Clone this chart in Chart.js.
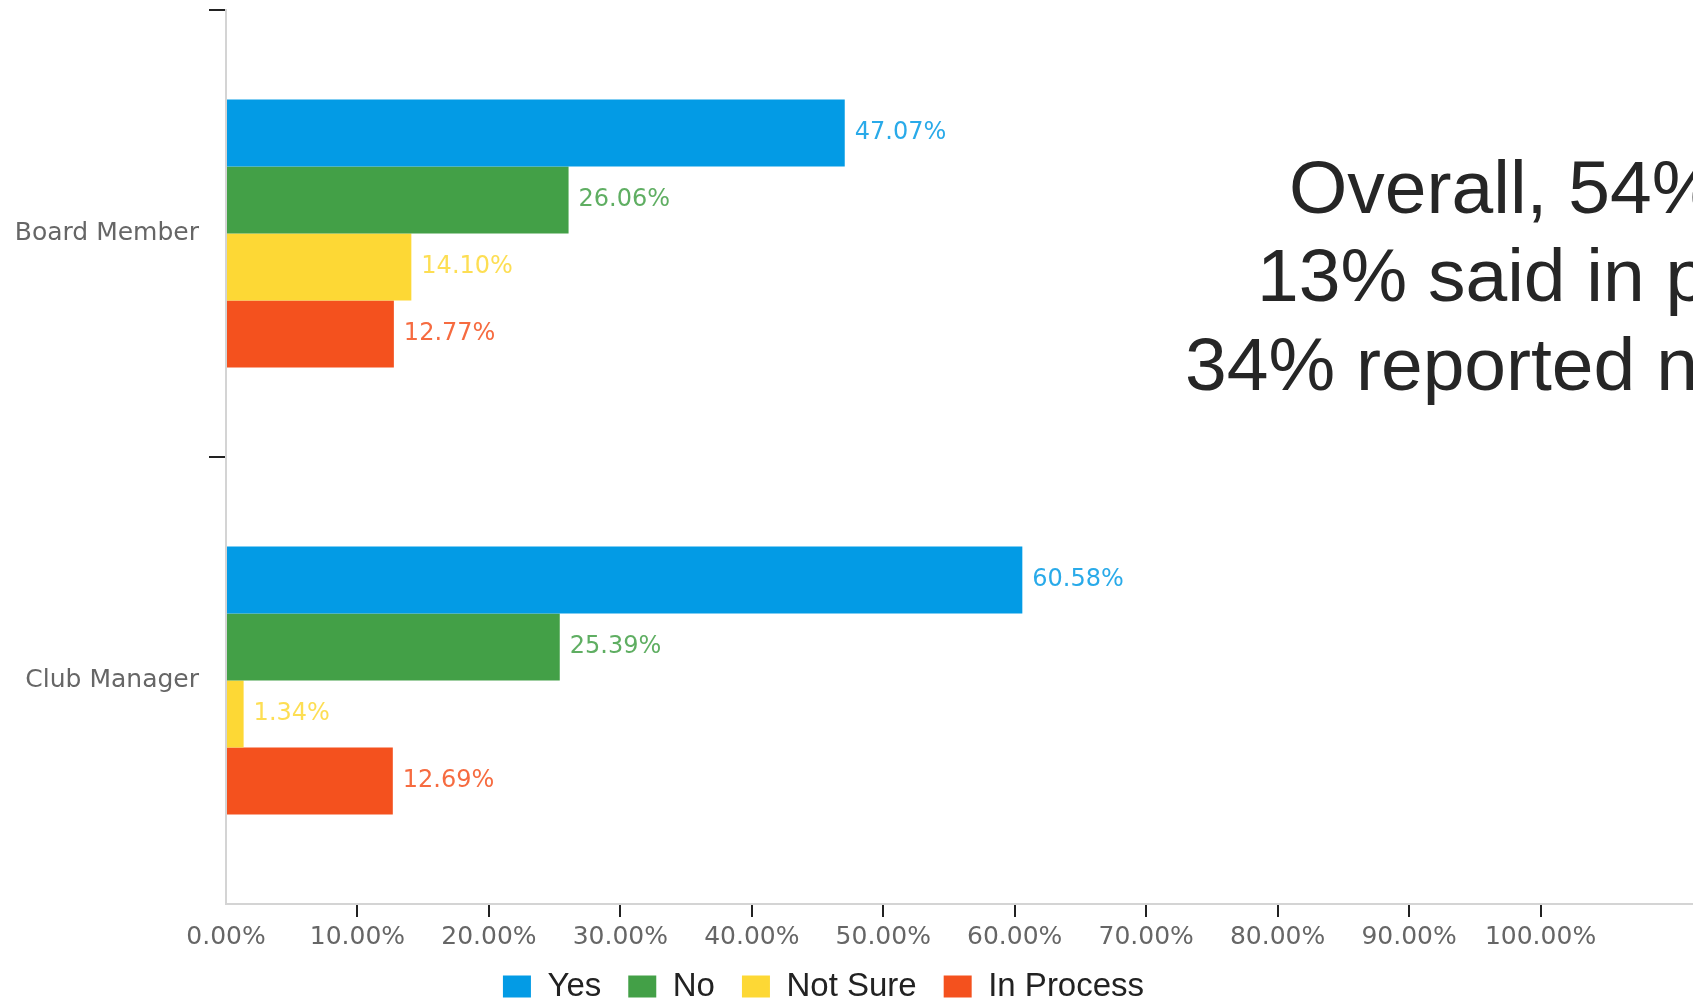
<!DOCTYPE html>
<html>
<head>
<meta charset="utf-8">
<title>Board Member / Club Manager</title>
<script src="https://cdn.jsdelivr.net/npm/chart.js@4.4.1/dist/chart.umd.min.js"></script>
<style>
  html, body { margin: 0; padding: 0; background: #fff; overflow: hidden; }
  #wrap { position: relative; width: 1693px; height: 998px; }
  .note {
    position: absolute;
    font-family: "Liberation Sans", Arial, sans-serif;
    font-size: 75px;
    line-height: 88px;
    color: #262626;
    white-space: nowrap;
  }
</style>
</head>
<body>
<div id="wrap">
  <canvas id="roleChart" width="1693" height="998"></canvas>
  <div class="note" style="left:1289px; top:143px">Overall, 54% reported yes,</div>
  <div class="note" style="left:1257px; top:231px">13% said in process, and</div>
  <div class="note" style="left:1185px; top:320px">34% reported no or not sure.</div>
</div>
<script>
// data
var roles = ["Board Member", "Club Manager"];
var yesValues = [47.07, 60.58];
var noValues = [26.06, 25.39];
var notSureValues = [14.10, 1.34];
var inProcessValues = [12.77, 12.69];
var xTicks = [0, 10, 20, 30, 40, 50, 60, 70, 80, 90, 100];

Chart.defaults.font.family = '"DejaVu Sans", Verdana, sans-serif';

// percentage next to the end of each bar
var valueLabels = {
  id: "valueLabels",
  afterDatasetsDraw: function (chart) {
    var ctx = chart.ctx;
    ctx.save();
    ctx.font = '24px "DejaVu Sans", Verdana, sans-serif';
    ctx.textBaseline = "middle";
    ctx.textAlign = "left";
    ctx.globalAlpha = 0.85;
    chart.data.datasets.forEach(function (ds, i) {
      chart.getDatasetMeta(i).data.forEach(function (bar, j) {
        ctx.fillStyle = ds.backgroundColor;
        ctx.fillText(ds.data[j].toFixed(2) + "%", bar.x + 10, bar.y);
      });
    });
    ctx.restore();
  }
};

// nudge the legend a bit left and pin it to the bottom
var legendPlacement = {
  id: "legendPlacement",
  afterLayout: function (chart) {
    var lg = chart.legend;
    lg.left -= 23;
    lg.right -= 23;
    lg.top = 943;
    lg.bottom = chart.height;
  }
};

var ctx = document.getElementById("roleChart").getContext("2d");
var roleChart = new Chart(ctx, {
  type: "bar",
  data: {
    labels: roles,
    datasets: [
      { label: "Yes", data: yesValues, backgroundColor: "#039be5" },
      { label: "No", data: noValues, backgroundColor: "#43a047" },
      { label: "Not Sure", data: notSureValues, backgroundColor: "#fdd835" },
      { label: "In Process", data: inProcessValues, backgroundColor: "#f4511e" }
    ]
  },
  options: {
    indexAxis: "y",
    responsive: false,
    animation: false,
    layout: { padding: { top: 10, left: 0, right: 0, bottom: 0 } },
    datasets: {
      bar: { categoryPercentage: 0.6, barPercentage: 1.0, borderWidth: 0 }
    },
    plugins: {
      tooltip: { enabled: false },
      legend: {
        position: "bottom",
        maxHeight: 44,
        labels: {
          boxWidth: 28,
          boxHeight: 22,
          padding: 27,
          color: "#222",
          font: { family: '"Liberation Sans", Arial, sans-serif', size: 33 }
        }
      }
    },
    scales: {
      x: {
        min: 0,
        max: 111.6,
        afterBuildTicks: function (scale) {
          scale.ticks = xTicks.map(function (v) { return { value: v }; });
        },
        grid: {
          drawOnChartArea: false,
          tickLength: 13,
          lineWidth: 2,
          tickColor: function (c) {
            return c.tick && c.tick.value > 0 ? "#222" : "rgba(0,0,0,0)";
          }
        },
        border: { color: "#d4d4d4", width: 2 },
        ticks: {
          color: "#666",
          font: { size: 25 },
          padding: 5,
          maxRotation: 0,
          autoSkip: false,
          callback: function (v) { return v.toFixed(2) + "%"; }
        },
        afterFit: function (scale) {
          scale.height = 94 - scale.chart.legend.height;
        }
      },
      y: {
        offset: true,
        grid: {
          offset: true,
          drawOnChartArea: false,
          tickLength: 17,
          lineWidth: 2,
          tickColor: function (c) {
            return c.tick ? "#222" : "rgba(0,0,0,0)";
          }
        },
        border: { color: "#d4d4d4", width: 2 },
        ticks: { color: "#666", font: { size: 25 }, padding: 10 },
        afterFit: function (scale) {
          scale.width = 226;
          scale.paddingTop = 0;
          scale.paddingBottom = 0;
        }
      }
    }
  },
  plugins: [valueLabels, legendPlacement]
});
</script>
</body>
</html>
